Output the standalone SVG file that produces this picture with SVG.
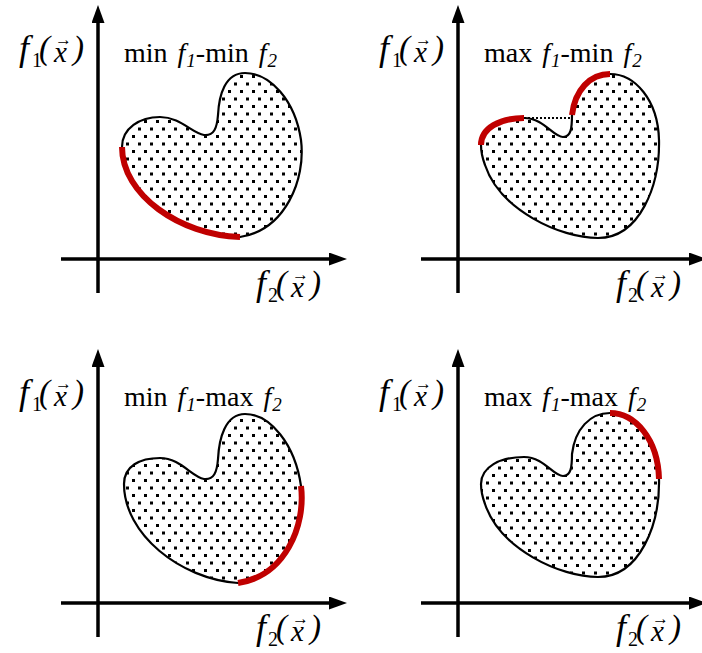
<svg xmlns="http://www.w3.org/2000/svg" width="702" height="653" viewBox="0 0 702 653" font-family="Liberation Serif, Times New Roman, DejaVu Serif, serif">
<defs>
<style>
.ax{stroke:#000;stroke-width:3.5;fill:none}
.blob{fill:url(#dots);stroke:#000;stroke-width:2.2}
.red{fill:none;stroke:#c00000;stroke-width:6}
.dash{fill:none;stroke:#000;stroke-width:2;stroke-dasharray:2 2}
text{font-family:Liberation Serif, Times New Roman, DejaVu Serif, serif;fill:#000}
.it{font-style:italic}
.fi{font-size:36px;font-style:italic}
.pa{font-size:33px;font-style:italic}
.sb{font-size:20px}
.xv{font-size:29px;font-style:italic}
.ar{font-size:17px}
.ti{font-size:28px}
.ts{font-size:19px;font-style:italic}
</style>
<marker id="ah" viewBox="0 0 18 13" markerWidth="18" markerHeight="13" refX="0" refY="6.5" orient="auto" markerUnits="userSpaceOnUse"><path d="M0,0 L18,6.5 L0,13 Z" fill="#000"/></marker>
<pattern id="dots" width="12" height="15" patternUnits="userSpaceOnUse"><rect x="0" y="0" width="3" height="3" fill="#000"/><rect x="6" y="7.5" width="3" height="3" fill="#000"/></pattern>
</defs>
<rect width="702" height="653" fill="#fff"/>

<g id="panel-min-min">
<g class="axes">
<line class="ax" x1="98" y1="293" x2="98" y2="23" marker-end="url(#ah)"/>
<line class="ax" x1="61" y1="259" x2="329" y2="259" marker-end="url(#ah)"/>
</g>
<text><tspan class="fi" x="19" y="60">f</tspan><tspan class="sb" x="32" y="67">1</tspan><tspan class="pa" x="39" y="59">(</tspan><tspan class="xv" x="54" y="62">x</tspan><tspan class="ar" x="55" y="45">→</tspan><tspan class="pa" x="73" y="59">)</tspan></text>
<text><tspan class="fi" x="256" y="295">f</tspan><tspan class="sb" x="268" y="302">2</tspan><tspan class="pa" x="276" y="294">(</tspan><tspan class="xv" x="291" y="297">x</tspan><tspan class="ar" x="292" y="280">→</tspan><tspan class="pa" x="310" y="294">)</tspan></text>
<text class="ti" y="62"><tspan x="124">min </tspan><tspan class="it" dx="3">f</tspan><tspan class="ts" dx="1" dy="5">1</tspan><tspan dy="-5">-min </tspan><tspan class="it" dx="3">f</tspan><tspan class="ts" dx="1" dy="5">2</tspan></text>
<path class="blob" d="M122,147 C122,128 140,117 160,117 C180,117 192,133 204,135 C214,136 217,128 218,115 C219,95 225,73 245,73 C270,73 295,100 301,140 C306,180 285,230 240,237 C180,235 122,195 122,147 Z"/>
<path class="red" d="M240,237 C180,235 122,195 122,147"/>
</g>

<g id="panel-max-min" transform="translate(360,0)">
<g class="axes">
<line class="ax" x1="98" y1="293" x2="98" y2="23" marker-end="url(#ah)"/>
<line class="ax" x1="61" y1="259" x2="329" y2="259" marker-end="url(#ah)"/>
</g>
<text><tspan class="fi" x="19" y="60">f</tspan><tspan class="sb" x="32" y="67">1</tspan><tspan class="pa" x="39" y="59">(</tspan><tspan class="xv" x="54" y="62">x</tspan><tspan class="ar" x="55" y="45">→</tspan><tspan class="pa" x="73" y="59">)</tspan></text>
<text><tspan class="fi" x="256" y="295">f</tspan><tspan class="sb" x="268" y="302">2</tspan><tspan class="pa" x="276" y="294">(</tspan><tspan class="xv" x="291" y="297">x</tspan><tspan class="ar" x="292" y="280">→</tspan><tspan class="pa" x="310" y="294">)</tspan></text>
<text class="ti" y="62"><tspan x="124">max </tspan><tspan class="it" dx="3">f</tspan><tspan class="ts" dx="1" dy="5">1</tspan><tspan dy="-5">-min </tspan><tspan class="it" dx="3">f</tspan><tspan class="ts" dx="1" dy="5">2</tspan></text>
<path class="blob" d="M121,145 C121,128 140,118 164,118 C184,118 193,137 203,137 C211,137 212,128 212,115 C215,90 230,74 250,74 C275,74 298,100 299,140 C300,185 280,238 238,238 C200,238 140,210 125,165 C122,157 121,150 121,145 Z"/>
<path class="dash" d="M164,118 H212"/>
<path class="red" d="M121,145 C121,128 140,118 164,118"/>
<path class="red" d="M212,115 C215,90 230,74 250,74"/>
</g>

<g id="panel-min-max" transform="translate(0,344)">
<g class="axes">
<line class="ax" x1="98" y1="293" x2="98" y2="23" marker-end="url(#ah)"/>
<line class="ax" x1="61" y1="259" x2="329" y2="259" marker-end="url(#ah)"/>
</g>
<text><tspan class="fi" x="19" y="60">f</tspan><tspan class="sb" x="32" y="67">1</tspan><tspan class="pa" x="39" y="59">(</tspan><tspan class="xv" x="54" y="62">x</tspan><tspan class="ar" x="55" y="45">→</tspan><tspan class="pa" x="73" y="59">)</tspan></text>
<text><tspan class="fi" x="256" y="295">f</tspan><tspan class="sb" x="268" y="302">2</tspan><tspan class="pa" x="276" y="294">(</tspan><tspan class="xv" x="291" y="297">x</tspan><tspan class="ar" x="292" y="280">→</tspan><tspan class="pa" x="310" y="294">)</tspan></text>
<text class="ti" y="62"><tspan x="124">min </tspan><tspan class="it" dx="3">f</tspan><tspan class="ts" dx="1" dy="5">1</tspan><tspan dy="-5">-max </tspan><tspan class="it" dx="3">f</tspan><tspan class="ts" dx="1" dy="5">2</tspan></text>
<path class="blob" d="M124,140 C124,122 140,114 160,114 C180,114 192,133 204,135 C214,136 217,128 218,115 C219,95 225,70 245,70 C270,70 295,100 301,142 C306,182 285,232 238,239 C180,235 124,190 124,140 Z"/>
<path class="red" d="M301,142 C306,182 285,232 238,239"/>
</g>

<g id="panel-max-max" transform="translate(360,344)">
<g class="axes">
<line class="ax" x1="98" y1="293" x2="98" y2="23" marker-end="url(#ah)"/>
<line class="ax" x1="61" y1="259" x2="329" y2="259" marker-end="url(#ah)"/>
</g>
<text><tspan class="fi" x="19" y="60">f</tspan><tspan class="sb" x="32" y="67">1</tspan><tspan class="pa" x="39" y="59">(</tspan><tspan class="xv" x="54" y="62">x</tspan><tspan class="ar" x="55" y="45">→</tspan><tspan class="pa" x="73" y="59">)</tspan></text>
<text><tspan class="fi" x="256" y="295">f</tspan><tspan class="sb" x="268" y="302">2</tspan><tspan class="pa" x="276" y="294">(</tspan><tspan class="xv" x="291" y="297">x</tspan><tspan class="ar" x="292" y="280">→</tspan><tspan class="pa" x="310" y="294">)</tspan></text>
<text class="ti" y="62"><tspan x="124">max </tspan><tspan class="it" dx="3">f</tspan><tspan class="ts" dx="1" dy="5">1</tspan><tspan dy="-5">-max </tspan><tspan class="it" dx="3">f</tspan><tspan class="ts" dx="1" dy="5">2</tspan></text>
<g transform="translate(0,-5)">
<path class="blob" d="M121,145 C121,128 140,118 164,118 C184,118 193,137 203,137 C211,137 212,128 212,115 C215,90 230,74 250,74 C275,74 298,100 299,140 C300,185 280,238 238,238 C200,238 140,210 125,165 C122,157 121,150 121,145 Z"/>
<path class="red" d="M250,74 C275,74 298,100 299,140"/>
</g>
</g>
</svg>
